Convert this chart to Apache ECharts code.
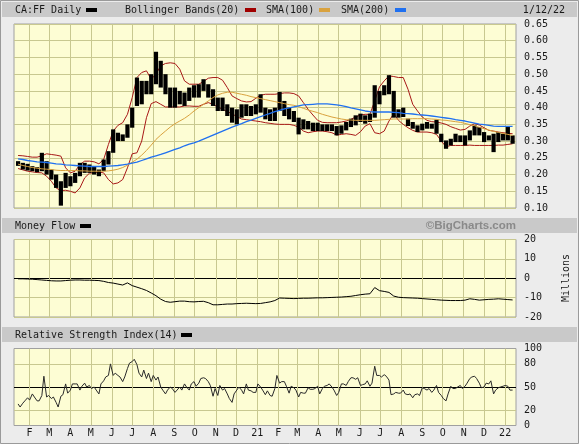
<!DOCTYPE html>
<html><head><meta charset="utf-8">
<script src="https://cdn.jsdelivr.net/npm/echarts@6/dist/echarts.min.js"></script>
<style>html,body{margin:0;padding:0;background:#ececec}#c{width:579px;height:444px}</style>
</head><body><div id="c"></div>
<script>
// ---- x axis: one category per calendar day, day 0 = 2020-01-09 ----
const axisStart = [2020, 0, 9];
const dayCount = 740;
const firstWeekDay = 6;          // 2020-01-15, first weekly sample
const monthLetters = ['J','F','M','A','M','J','J','A','S','O','N','D'];

// ---- weekly price range (high / low) ----
const priceHigh = [
0.240,0.235,0.232,0.225,0.222,0.265,0.240,0.215,0.200,0.180,
0.205,0.195,0.205,0.235,0.235,0.230,0.225,0.215,0.245,0.270,
0.335,0.325,0.320,0.350,0.400,0.490,0.480,0.480,0.500,0.567,
0.540,0.500,0.460,0.460,0.450,0.445,0.460,0.467,0.470,0.485,
0.470,0.455,0.430,0.430,0.410,0.400,0.395,0.410,0.410,0.405,
0.410,0.440,0.400,0.395,0.400,0.447,0.420,0.400,0.390,0.370,
0.365,0.360,0.355,0.355,0.350,0.350,0.350,0.345,0.347,0.357,
0.367,0.377,0.382,0.377,0.382,0.467,0.450,0.467,0.497,0.450,
0.395,0.400,0.367,0.357,0.347,0.352,0.357,0.352,0.364,0.322,
0.302,0.307,0.322,0.317,0.317,0.332,0.347,0.342,0.327,0.317,
0.322,0.327,0.322,0.342,0.317];
const priceLow = [
0.226,0.215,0.212,0.210,0.207,0.210,0.200,0.185,0.160,0.107,
0.160,0.165,0.175,0.195,0.205,0.205,0.200,0.195,0.210,0.230,
0.265,0.300,0.300,0.310,0.340,0.405,0.410,0.440,0.440,0.470,
0.460,0.440,0.400,0.400,0.410,0.405,0.420,0.430,0.430,0.450,
0.430,0.405,0.390,0.390,0.375,0.355,0.350,0.370,0.375,0.375,
0.380,0.385,0.365,0.360,0.360,0.390,0.375,0.365,0.357,0.320,
0.335,0.335,0.330,0.330,0.330,0.330,0.330,0.317,0.322,0.332,
0.342,0.347,0.357,0.352,0.357,0.370,0.410,0.437,0.440,0.370,
0.370,0.372,0.345,0.337,0.327,0.332,0.337,0.337,0.322,0.297,
0.277,0.287,0.297,0.297,0.287,0.302,0.317,0.317,0.297,0.302,
0.267,0.297,0.302,0.302,0.292];

// ---- Bollinger Bands(20), weekly ----
const bbUpper = [
0.257,0.256,0.254,0.252,0.252,0.256,0.262,0.260,0.258,0.255,
0.220,0.205,0.210,0.230,0.240,0.240,0.238,0.232,0.245,0.290,
0.330,0.347,0.355,0.380,0.430,0.490,0.505,0.510,0.485,0.500,
0.525,0.532,0.534,0.532,0.515,0.480,0.470,0.470,0.470,0.478,
0.488,0.490,0.490,0.482,0.460,0.435,0.427,0.420,0.417,0.418,
0.428,0.437,0.440,0.440,0.440,0.442,0.444,0.444,0.442,0.435,
0.415,0.395,0.378,0.362,0.356,0.355,0.355,0.355,0.357,0.360,
0.365,0.372,0.378,0.380,0.380,0.420,0.462,0.480,0.495,0.493,
0.490,0.490,0.455,0.410,0.390,0.372,0.362,0.358,0.357,0.354,
0.350,0.343,0.338,0.333,0.335,0.345,0.352,0.348,0.340,0.332,
0.330,0.327,0.325,0.323,0.322];
const bbLower = [
0.218,0.214,0.210,0.208,0.206,0.205,0.195,0.180,0.160,0.152,
0.153,0.150,0.145,0.160,0.190,0.204,0.206,0.207,0.205,0.185,
0.172,0.175,0.185,0.220,0.262,0.265,0.300,0.370,0.412,0.418,
0.410,0.402,0.402,0.402,0.402,0.405,0.405,0.404,0.404,0.410,
0.415,0.410,0.402,0.395,0.388,0.382,0.373,0.366,0.364,0.362,
0.360,0.358,0.355,0.353,0.351,0.350,0.350,0.350,0.347,0.342,
0.330,0.325,0.328,0.330,0.330,0.328,0.325,0.318,0.320,0.322,
0.320,0.317,0.328,0.345,0.352,0.325,0.322,0.330,0.360,0.382,
0.362,0.350,0.340,0.332,0.327,0.327,0.327,0.325,0.320,0.300,
0.283,0.287,0.287,0.287,0.287,0.288,0.287,0.287,0.287,0.287,
0.287,0.288,0.288,0.290,0.292];

// ---- SMA(100) and SMA(200), weekly ----
const sma100 = [
0.231,0.227,0.224,0.221,0.219,0.217,0.216,0.215,0.213,0.212,
0.212,0.212,0.212,0.211,0.211,0.210,0.210,0.210,0.210,0.211,
0.213,0.216,0.221,0.228,0.237,0.246,0.258,0.272,0.288,0.305,
0.318,0.330,0.342,0.352,0.360,0.368,0.378,0.390,0.400,0.410,
0.420,0.430,0.438,0.443,0.446,0.446,0.443,0.440,0.437,0.433,
0.430,0.427,0.424,0.421,0.418,0.415,0.412,0.409,0.407,0.403,
0.398,0.393,0.389,0.385,0.380,0.376,0.372,0.369,0.366,0.364,
0.363,0.362,0.362,0.362,0.362,0.362,0.363,0.364,0.365,0.366,
0.366,0.366,0.366,0.367,0.367,0.367,0.367,0.366,0.365,0.363,
0.362,0.360,0.358,0.356,0.353,0.349,0.346,0.341,0.337,0.333,
0.329,0.326,0.323,0.320,0.317];
const sma200 = [
0.247,0.245,0.242,0.240,0.238,0.237,0.236,0.234,0.232,0.231,
0.229,0.228,0.227,0.226,0.225,0.224,0.224,0.224,0.224,0.225,
0.226,0.227,0.229,0.231,0.234,0.237,0.242,0.247,0.252,0.256,
0.260,0.265,0.270,0.275,0.280,0.286,0.291,0.295,0.300,0.306,
0.312,0.318,0.324,0.330,0.336,0.342,0.347,0.352,0.358,0.363,
0.368,0.373,0.378,0.383,0.388,0.392,0.396,0.399,0.402,0.405,
0.408,0.409,0.410,0.411,0.411,0.411,0.410,0.408,0.406,0.403,
0.399,0.396,0.393,0.390,0.388,0.387,0.387,0.387,0.387,0.386,
0.385,0.383,0.382,0.381,0.379,0.378,0.377,0.375,0.373,0.371,
0.369,0.367,0.364,0.362,0.360,0.357,0.354,0.351,0.349,0.347,
0.345,0.344,0.344,0.344,0.344];

// ---- Money Flow (millions), weekly ----
const moneyFlow = [
-0.3,-0.3,-0.4,-0.5,-0.7,-0.9,-1.1,-1.3,-1.4,-1.4,
-1.2,-1.0,-0.9,-0.9,-1.0,-1.0,-1.1,-1.2,-1.6,-2.2,
-2.5,-3.0,-3.5,-2.4,-3.8,-4.6,-5.4,-6.3,-7.6,-9.0,
-10.8,-12.0,-12.4,-12.1,-11.8,-11.8,-12.1,-12.2,-12.0,-11.9,
-12.6,-13.7,-13.7,-13.5,-13.3,-13.3,-13.1,-13.0,-12.9,-13.0,
-13.1,-13.0,-12.6,-12.2,-11.5,-10.2,-10.3,-10.4,-10.5,-10.4,
-10.3,-10.3,-10.2,-10.1,-10.1,-10.0,-9.9,-9.8,-9.7,-9.5,
-9.3,-8.9,-8.5,-8.2,-8.0,-4.8,-6.4,-6.8,-7.3,-9.2,
-9.8,-10.0,-10.1,-10.2,-10.3,-10.5,-10.7,-10.9,-11.1,-11.3,
-11.4,-11.5,-11.5,-11.5,-11.3,-10.6,-10.9,-11.3,-11.1,-10.9,
-10.8,-10.6,-10.8,-11.0,-11.2];

// ---- RSI(14), two samples per week ----
const rsi = [
28,24,29,32,36,33,41,37,32,32, 39,64,37,39,35,37,30,24,38,40,
54,42,46,54,54,54,46,51,55,50, 52,48,50,46,41,54,58,63,65,80,
65,68,65,63,57,63,74,81,83,86, 79,68,63,72,61,68,57,65,59,63,
50,46,41,46,50,48,43,46,50,46, 54,50,46,54,57,51,55,61,62,61,
57,52,38,48,39,52,46,48,41,35, 30,41,46,50,46,41,54,46,45,43,
43,54,50,46,40,45,39,38,48,65, 55,57,57,51,42,51,49,46,37,43,
42,42,49,47,47,48,51,41,48,51, 52,54,50,46,39,43,54,54,52,57,
62,62,60,62,52,53,54,58,51,55, 77,65,65,63,66,64,59,40,41,43,
42,42,46,41,40,41,36,40,41,39, 49,48,46,48,43,46,52,43,39,35,
32,41,51,48,48,50,52,48,51,55, 61,63,64,61,55,49,50,55,54,58,
41,46,49,50,51,52,51,46,46];

const rsiTickLabels = [0, 20, 50, 80, 100];

// ---- build categories and series data ----
const categories = [];
for (let d = 0; d < dayCount; d++) {
  const dt = new Date(Date.UTC(axisStart[0], axisStart[1], axisStart[2] + d));
  categories.push(dt.toISOString().slice(0, 10));
}
const weekDay = w => firstWeekDay + 7 * w;
const halfWeekDay = h => firstWeekDay + Math.floor(3.5 * h);
const weekly = arr => arr.map((v, w) => [weekDay(w), v]);
const isMonthStart = (i, v) => categories[i].slice(8) === '01';
const monthLabel = v => { const m = +v.slice(5, 7); return m === 1 ? v.slice(2, 4) : monthLetters[m - 1]; };

const GRID = '#c8c890';
const PLOT_BG = '#fdfdd4';
const MONO = '"DejaVu Sans Mono", monospace';
const TXT = '#1a1a1a';
const CLEAR = 'rgba(0,0,0,0)';

const chart = echarts.init(document.getElementById('c'), null, {renderer: 'canvas'});

function xAxisFor(i) {
  return {
    type: 'category', gridIndex: i, data: categories, boundaryGap: false,
    axisLine: {show: false}, axisTick: {show: false},
    axisLabel: {show: i === 2, interval: isMonthStart, formatter: monthLabel,
      color: TXT, fontFamily: MONO, fontSize: 10, margin: 3},
    splitLine: {show: true, interval: isMonthStart, lineStyle: {color: GRID, width: 1}}
  };
}
const yLabel = {color: TXT, fontFamily: MONO, fontSize: 10, margin: 8, align: 'left'};

const option = {
  animation: false,
  backgroundColor: '#ececec',
  grid: [
    {left: 14, top: 24, width: 502, height: 184, show: true, backgroundColor: PLOT_BG, borderColor: '#a0a0a0', borderWidth: 1},
    {left: 14, top: 239.5, width: 502, height: 77.5, show: true, backgroundColor: PLOT_BG, borderColor: '#a0a0a0', borderWidth: 1},
    {left: 14, top: 348.5, width: 502, height: 77, show: true, backgroundColor: PLOT_BG, borderColor: '#a0a0a0', borderWidth: 1}
  ],
  xAxis: [xAxisFor(0), xAxisFor(1), xAxisFor(2)],
  yAxis: [
    {type: 'value', gridIndex: 0, position: 'right', min: 0.1, max: 0.65, interval: 0.05,
      axisLine: {show: false}, axisTick: {show: false},
      axisLabel: Object.assign({formatter: v => v.toFixed(2)}, yLabel),
      splitLine: {lineStyle: {color: GRID, width: 1}}},
    {type: 'value', gridIndex: 1, position: 'right', min: -20, max: 20, interval: 10,
      axisLine: {show: false}, axisTick: {show: false},
      axisLabel: Object.assign({formatter: v => String(v)}, yLabel),
      splitLine: {lineStyle: {color: [GRID, GRID, '#000000', GRID, GRID], width: 1}}},
    {type: 'value', gridIndex: 2, position: 'right', min: 0, max: 100, interval: 10,
      axisLine: {show: false}, axisTick: {show: false},
      axisLabel: Object.assign({formatter: v => rsiTickLabels.indexOf(v) >= 0 ? String(v) : ''}, yLabel),
      splitLine: {lineStyle: {color: [CLEAR, CLEAR, GRID, CLEAR, CLEAR, '#000000', CLEAR, CLEAR, GRID, CLEAR, CLEAR], width: 1}}}
  ],
  series: [
    {name: 'BB upper', type: 'line', xAxisIndex: 0, yAxisIndex: 0, data: weekly(bbUpper), symbol: 'none',
      lineStyle: {color: '#a81818', width: 1}, z: 2, silent: true},
    {name: 'BB lower', type: 'line', xAxisIndex: 0, yAxisIndex: 0, data: weekly(bbLower), symbol: 'none',
      lineStyle: {color: '#a81818', width: 1}, z: 2, silent: true},
    {name: 'Price', type: 'custom', xAxisIndex: 0, yAxisIndex: 0, z: 3, silent: true,
      data: priceLow.map((lo, w) => [weekDay(w), lo, priceHigh[w]]),
      encode: {x: 0, y: [1, 2]},
      renderItem: (params, api) => {
        const x = api.value(0);
        const top = api.coord([x, api.value(2)]);
        const bot = api.coord([x, api.value(1)]);
        return {type: 'rect', shape: {x: top[0] - 2.1, y: top[1], width: 4.2, height: Math.max(1, bot[1] - top[1])},
          style: {fill: '#000000'}};
      }},
    {name: 'SMA(100)', type: 'line', xAxisIndex: 0, yAxisIndex: 0, data: weekly(sma100), symbol: 'none',
      lineStyle: {color: '#d9a23e', width: 1}, z: 4, silent: true},
    {name: 'SMA(200)', type: 'line', xAxisIndex: 0, yAxisIndex: 0, data: weekly(sma200), symbol: 'none',
      lineStyle: {color: '#1f70f0', width: 1.3}, z: 5, silent: true},
    {name: 'Money Flow', type: 'line', xAxisIndex: 1, yAxisIndex: 1, data: weekly(moneyFlow), symbol: 'none',
      lineStyle: {color: '#000000', width: 1}, silent: true},
    {name: 'RSI', type: 'line', xAxisIndex: 2, yAxisIndex: 2, data: rsi.map((v, h) => [halfWeekDay(h), v]), symbol: 'none',
      lineStyle: {color: '#2a2a2a', width: 1}, silent: true}
  ],
  graphic: [
    {type: 'rect', silent: true, shape: {x: 0.5, y: 0.5, width: 578, height: 443}, style: {fill: 'none', stroke: '#9a9a9a', lineWidth: 1}},
    {type: 'rect', silent: true, shape: {x: 2, y: 2, width: 575, height: 15}, style: {fill: '#c9c9c9'}},
    {type: 'rect', silent: true, shape: {x: 2, y: 218, width: 575, height: 15}, style: {fill: '#c9c9c9'}},
    {type: 'rect', silent: true, shape: {x: 2, y: 327, width: 575, height: 15}, style: {fill: '#c9c9c9'}},
    // header 1
    {type: 'text', silent: true, x: 15, y: 10, style: {text: 'CA:FF Daily', font: '10px ' + MONO, fill: TXT, verticalAlign: 'middle'}},
    {type: 'rect', silent: true, shape: {x: 86, y: 8, width: 11, height: 4}, style: {fill: '#000000'}},
    {type: 'text', silent: true, x: 125, y: 10, style: {text: 'Bollinger Bands(20)', font: '10px ' + MONO, fill: TXT, verticalAlign: 'middle'}},
    {type: 'rect', silent: true, shape: {x: 245, y: 8, width: 11, height: 4}, style: {fill: '#a00000'}},
    {type: 'text', silent: true, x: 266, y: 10, style: {text: 'SMA(100)', font: '10px ' + MONO, fill: TXT, verticalAlign: 'middle'}},
    {type: 'rect', silent: true, shape: {x: 319, y: 8, width: 11, height: 4}, style: {fill: '#d9a23e'}},
    {type: 'text', silent: true, x: 341, y: 10, style: {text: 'SMA(200)', font: '10px ' + MONO, fill: TXT, verticalAlign: 'middle'}},
    {type: 'rect', silent: true, shape: {x: 395, y: 8, width: 11, height: 4}, style: {fill: '#1f70f0'}},
    {type: 'text', silent: true, x: 565, y: 10, style: {text: '1/12/22', font: '10px ' + MONO, fill: TXT, align: 'right', verticalAlign: 'middle'}},
    // header 2
    {type: 'text', silent: true, x: 15, y: 226, style: {text: 'Money Flow', font: '10px ' + MONO, fill: TXT, verticalAlign: 'middle'}},
    {type: 'rect', silent: true, shape: {x: 80, y: 224, width: 11, height: 4}, style: {fill: '#000000'}},
    {type: 'text', silent: true, x: 516, y: 226, style: {text: '\u00a9BigCharts.com', font: 'bold 11.5px "Liberation Sans", Arial, sans-serif', fill: '#8a8a8a', align: 'right', verticalAlign: 'middle'}},
    {type: 'text', silent: true, x: 566, y: 278, rotation: Math.PI / 2, style: {text: 'Millions', font: '10px ' + MONO, fill: TXT, align: 'center', verticalAlign: 'middle'}},
    // header 3
    {type: 'text', silent: true, x: 15, y: 335, style: {text: 'Relative Strength Index(14)', font: '10px ' + MONO, fill: TXT, verticalAlign: 'middle'}},
    {type: 'rect', silent: true, shape: {x: 181, y: 333, width: 11, height: 4}, style: {fill: '#000000'}}
  ]
};
chart.setOption(option);
</script>
</body></html>
